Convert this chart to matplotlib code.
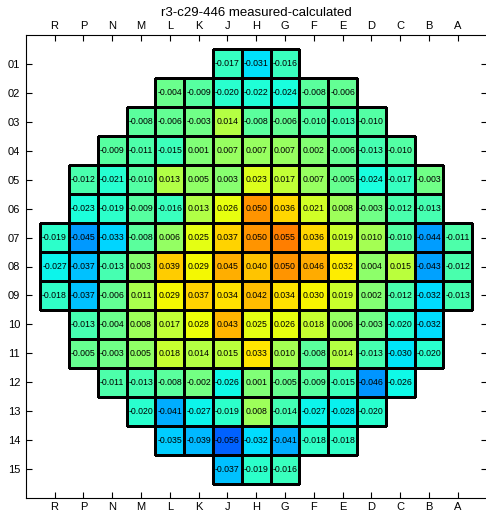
import numpy as np
import matplotlib
matplotlib.use('Agg')
import matplotlib.pyplot as plt

plt.rcParams['font.family'] = ['Liberation Sans', 'DejaVu Sans']

# column letters (left to right) and row labels (top to bottom)
col_labels = ['R', 'P', 'N', 'M', 'L', 'K', 'J', 'H', 'G', 'F', 'E', 'D', 'C', 'B', 'A']
row_labels = ['01', '02', '03', '04', '05', '06', '07', '08', '09', '10', '11', '12', '13', '14', '15']

# first column index of each row, and values across that row
row_start = [6, 4, 3, 2, 1, 1, 0, 0, 0, 1, 1, 2, 3, 4, 6]
row_vals = [
    [-0.017, -0.031, -0.016],
    [-0.004, -0.009, -0.020, -0.022, -0.024, -0.008, -0.006],
    [-0.008, -0.006, -0.003, 0.014, -0.008, -0.006, -0.010, -0.013, -0.010],
    [-0.009, -0.011, -0.015, 0.001, 0.007, 0.007, 0.007, 0.002, -0.006, -0.013, -0.010],
    [-0.012, -0.021, -0.010, 0.013, 0.005, 0.003, 0.023, 0.017, 0.007, -0.005, -0.024, -0.017, -0.003],
    [-0.023, -0.019, -0.009, -0.016, 0.013, 0.026, 0.050, 0.036, 0.021, 0.008, -0.003, -0.012, -0.013],
    [-0.019, -0.045, -0.033, -0.008, 0.006, 0.025, 0.037, 0.050, 0.055, 0.036, 0.019, 0.010, -0.010, -0.044, -0.011],
    [-0.027, -0.037, -0.013, 0.003, 0.039, 0.029, 0.045, 0.040, 0.050, 0.046, 0.032, 0.004, 0.015, -0.043, -0.012],
    [-0.018, -0.037, -0.006, 0.011, 0.029, 0.037, 0.034, 0.042, 0.034, 0.030, 0.019, 0.002, -0.012, -0.032, -0.013],
    [-0.013, -0.004, 0.008, 0.017, 0.028, 0.043, 0.025, 0.026, 0.018, 0.006, -0.003, -0.020, -0.032],
    [-0.005, -0.003, 0.005, 0.018, 0.014, 0.015, 0.033, 0.010, -0.008, 0.014, -0.013, -0.030, -0.020],
    [-0.011, -0.013, -0.008, -0.002, -0.026, 0.001, -0.005, -0.009, -0.015, -0.046, -0.026],
    [-0.020, -0.041, -0.027, -0.019, 0.008, -0.014, -0.027, -0.028, -0.020],
    [-0.035, -0.039, -0.056, -0.032, -0.041, -0.018, -0.018],
    [-0.037, -0.019, -0.016],
]

n = len(col_labels)

fig = plt.figure(figsize=(4.86, 5.15), dpi=100)
ax = fig.add_axes([25.7 / 486, 1 - 498 / 515, 461 / 486, 463 / 515])

# one strip of cells per row, so empty positions get no outline
for r, (s, vals) in enumerate(zip(row_start, row_vals)):
    xe = np.arange(s, s + len(vals) + 1) + 0.5
    ye = np.array([r + 0.5, r + 1.5])
    ax.pcolormesh(xe, ye, np.array([vals]), cmap='jet', vmin=-0.1, vmax=0.1,
                  edgecolors='black', linewidth=0.8)
    for k, v in enumerate(vals):
        ax.text(s + k + 1, r + 1, f'{v:.3f}', ha='center', va='center',
                fontsize=6.3, color='black')

ax.set_xlim(0, 16)
ax.set_ylim(16, 0)
ax.set_xticks(range(1, n + 1))
ax.set_xticklabels(col_labels)
ax.set_yticks(range(1, n + 1))
ax.set_yticklabels(row_labels)
ax.tick_params(axis='x', top=True, labeltop=True, direction='in', length=4, labelsize=8, pad=3)
ax.tick_params(axis='y', right=True, direction='in', length=4, labelsize=8, pad=4)

ax.set_title('r3-c29-446 measured-calculated', fontsize=9.5, pad=14)

fig.savefig('out.png', dpi=100)
